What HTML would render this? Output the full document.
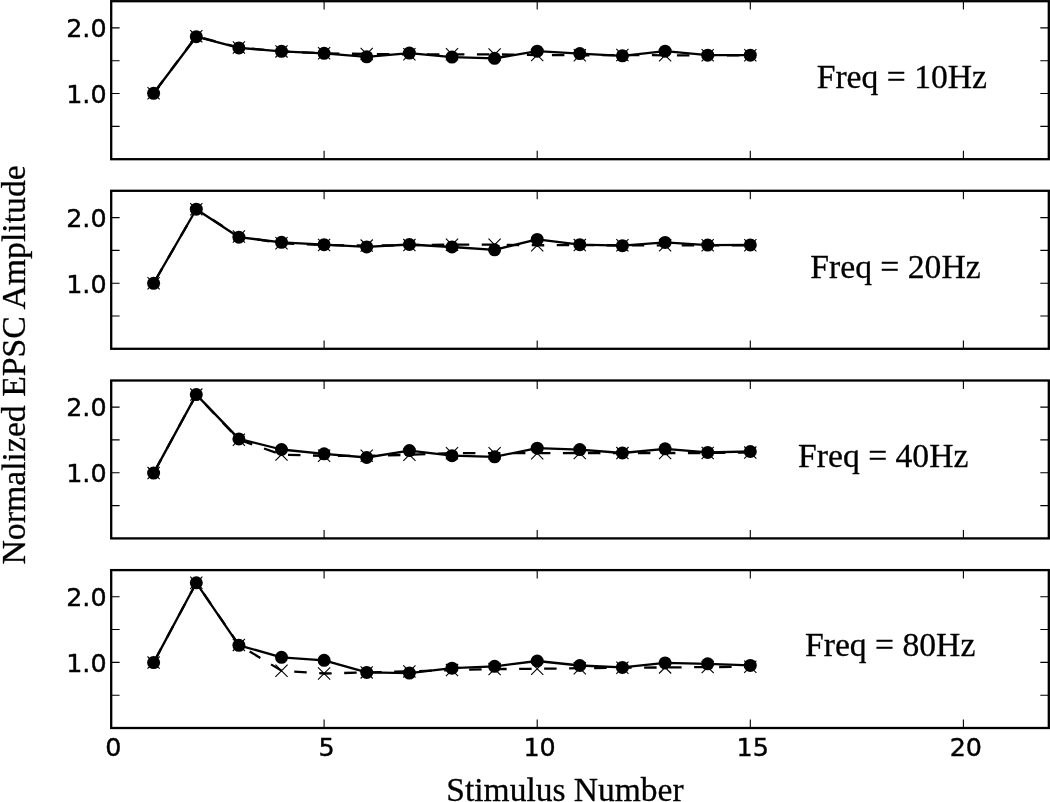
<!DOCTYPE html>
<html lang="en"><head><meta charset="utf-8"><title>Normalized EPSC Amplitude vs Stimulus Number</title>
<style>html,body{margin:0;padding:0;background:#fff}body{width:1050px;height:802px;overflow:hidden}svg{display:block}.tk{font-family:"DejaVu Sans","Liberation Sans",sans-serif;font-size:25.4px;fill:#000;stroke:#000;stroke-width:0.4px}.lb{font-family:"Liberation Serif","DejaVu Serif",serif;font-size:33.65px;fill:#000;stroke:#000;stroke-width:0.3px}</style></head><body>
<svg width="1050" height="802" viewBox="0 0 1050 802">
<rect width="1050" height="802" fill="#fff"/>
<g>
<polyline points="153.6,93.3 196.3,36.3 238.9,47.5 281.5,51.4 324.1,53.3 366.7,54.0 409.4,54.3 452.0,54.3 494.6,54.4 537.2,55.0 579.8,55.3 622.4,55.0 665.1,55.3 707.7,55.3 750.3,55.3" fill="none" stroke="#000" stroke-width="2.3" stroke-dasharray="12.5 12.5" stroke-dashoffset="-3.5"/>
<path d="M147.5 87.2L159.7 99.4M147.5 99.4L159.7 87.2M190.2 30.2L202.4 42.4M190.2 42.4L202.4 30.2M232.8 41.4L245.0 53.6M232.8 53.6L245.0 41.4M275.4 45.3L287.6 57.5M275.4 57.5L287.6 45.3M318.0 47.2L330.2 59.4M318.0 59.4L330.2 47.2M360.6 47.9L372.8 60.1M360.6 60.1L372.8 47.9M403.3 48.2L415.5 60.4M403.3 60.4L415.5 48.2M445.9 48.2L458.1 60.4M445.9 60.4L458.1 48.2M488.5 48.3L500.7 60.5M488.5 60.5L500.7 48.3M531.1 48.9L543.3 61.1M531.1 61.1L543.3 48.9M573.7 49.2L585.9 61.4M573.7 61.4L585.9 49.2M616.3 48.9L628.5 61.1M616.3 61.1L628.5 48.9M659.0 49.2L671.2 61.4M659.0 61.4L671.2 49.2M701.6 49.2L713.8 61.4M701.6 61.4L713.8 49.2M744.2 49.2L756.4 61.4M744.2 61.4L756.4 49.2" stroke="#000" stroke-width="1.1" fill="none"/>
<polyline points="153.6,93.3 196.3,36.7 238.9,47.9 281.5,51.3 324.1,53.3 366.7,56.8 409.4,53.1 452.0,57.1 494.6,58.3 537.2,51.2 579.8,53.6 622.4,55.8 665.1,51.2 707.7,55.2 750.3,55.2" fill="none" stroke="#000" stroke-width="2.3" stroke-linejoin="round"/>
<circle cx="153.6" cy="93.3" r="6.5" fill="#000"/>
<circle cx="196.3" cy="36.7" r="6.5" fill="#000"/>
<circle cx="238.9" cy="47.9" r="6.5" fill="#000"/>
<circle cx="281.5" cy="51.3" r="6.5" fill="#000"/>
<circle cx="324.1" cy="53.3" r="6.5" fill="#000"/>
<circle cx="366.7" cy="56.8" r="6.5" fill="#000"/>
<circle cx="409.4" cy="53.1" r="6.5" fill="#000"/>
<circle cx="452.0" cy="57.1" r="6.5" fill="#000"/>
<circle cx="494.6" cy="58.3" r="6.5" fill="#000"/>
<circle cx="537.2" cy="51.2" r="6.5" fill="#000"/>
<circle cx="579.8" cy="53.6" r="6.5" fill="#000"/>
<circle cx="622.4" cy="55.8" r="6.5" fill="#000"/>
<circle cx="665.1" cy="51.2" r="6.5" fill="#000"/>
<circle cx="707.7" cy="55.2" r="6.5" fill="#000"/>
<circle cx="750.3" cy="55.2" r="6.5" fill="#000"/>
<path d="M324.1 1.2v8.4M324.1 159.2v-8.4M537.2 1.2v8.4M537.2 159.2v-8.4M750.3 1.2v8.4M750.3 159.2v-8.4M963.4 1.2v8.4M963.4 159.2v-8.4M111.2 126.4h8.4M1048.7 126.4h-8.4M111.2 93.5h8.4M1048.7 93.5h-8.4M111.2 60.7h8.4M1048.7 60.7h-8.4M111.2 27.9h8.4M1048.7 27.9h-8.4" stroke="#000" stroke-width="1.1" fill="none"/>
<rect x="111.2" y="1.2" width="937.6" height="158.0" fill="none" stroke="#000" stroke-width="2.3"/>
<text class="tk" x="106.6" y="102.8" text-anchor="end">1.0</text>
<text class="tk" x="106.6" y="37.2" text-anchor="end">2.0</text>
<text class="lb" x="816.7" y="87.7">Freq = 10Hz</text>
</g>
<g>
<polyline points="153.6,283.3 196.3,209.3 238.9,236.5 281.5,243.3 324.1,245.0 366.7,245.6 409.4,245.1 452.0,244.7 494.6,244.7 537.2,245.3 579.8,245.1 622.4,245.3 665.1,245.3 707.7,245.3 750.3,245.3" fill="none" stroke="#000" stroke-width="2.3" stroke-dasharray="12.5 12.5" stroke-dashoffset="-4.4"/>
<path d="M147.5 277.2L159.7 289.4M147.5 289.4L159.7 277.2M190.2 203.2L202.4 215.4M190.2 215.4L202.4 203.2M232.8 230.4L245.0 242.6M232.8 242.6L245.0 230.4M275.4 237.2L287.6 249.4M275.4 249.4L287.6 237.2M318.0 238.9L330.2 251.1M318.0 251.1L330.2 238.9M360.6 239.5L372.8 251.7M360.6 251.7L372.8 239.5M403.3 239.0L415.5 251.2M403.3 251.2L415.5 239.0M445.9 238.6L458.1 250.8M445.9 250.8L458.1 238.6M488.5 238.6L500.7 250.8M488.5 250.8L500.7 238.6M531.1 239.2L543.3 251.4M531.1 251.4L543.3 239.2M573.7 239.0L585.9 251.2M573.7 251.2L585.9 239.0M616.3 239.2L628.5 251.4M616.3 251.4L628.5 239.2M659.0 239.2L671.2 251.4M659.0 251.4L671.2 239.2M701.6 239.2L713.8 251.4M701.6 251.4L713.8 239.2M744.2 239.2L756.4 251.4M744.2 251.4L756.4 239.2" stroke="#000" stroke-width="1.1" fill="none"/>
<polyline points="153.6,283.3 196.3,209.2 238.9,237.2 281.5,242.3 324.1,244.7 366.7,246.9 409.4,244.5 452.0,247.0 494.6,249.8 537.2,239.4 579.8,244.7 622.4,245.7 665.1,242.4 707.7,245.1 750.3,244.9" fill="none" stroke="#000" stroke-width="2.3" stroke-linejoin="round"/>
<circle cx="153.6" cy="283.3" r="6.5" fill="#000"/>
<circle cx="196.3" cy="209.2" r="6.5" fill="#000"/>
<circle cx="238.9" cy="237.2" r="6.5" fill="#000"/>
<circle cx="281.5" cy="242.3" r="6.5" fill="#000"/>
<circle cx="324.1" cy="244.7" r="6.5" fill="#000"/>
<circle cx="366.7" cy="246.9" r="6.5" fill="#000"/>
<circle cx="409.4" cy="244.5" r="6.5" fill="#000"/>
<circle cx="452.0" cy="247.0" r="6.5" fill="#000"/>
<circle cx="494.6" cy="249.8" r="6.5" fill="#000"/>
<circle cx="537.2" cy="239.4" r="6.5" fill="#000"/>
<circle cx="579.8" cy="244.7" r="6.5" fill="#000"/>
<circle cx="622.4" cy="245.7" r="6.5" fill="#000"/>
<circle cx="665.1" cy="242.4" r="6.5" fill="#000"/>
<circle cx="707.7" cy="245.1" r="6.5" fill="#000"/>
<circle cx="750.3" cy="244.9" r="6.5" fill="#000"/>
<path d="M324.1 190.8v8.4M324.1 348.9v-8.4M537.2 190.8v8.4M537.2 348.9v-8.4M750.3 190.8v8.4M750.3 348.9v-8.4M963.4 190.8v8.4M963.4 348.9v-8.4M111.2 316.0h8.4M1048.7 316.0h-8.4M111.2 283.2h8.4M1048.7 283.2h-8.4M111.2 250.4h8.4M1048.7 250.4h-8.4M111.2 217.6h8.4M1048.7 217.6h-8.4" stroke="#000" stroke-width="1.1" fill="none"/>
<rect x="111.2" y="190.8" width="937.6" height="158.0" fill="none" stroke="#000" stroke-width="2.3"/>
<text class="tk" x="106.6" y="292.5" text-anchor="end">1.0</text>
<text class="tk" x="106.6" y="226.9" text-anchor="end">2.0</text>
<text class="lb" x="810.3" y="277.6">Freq = 20Hz</text>
</g>
<g>
<polyline points="153.6,473.1 196.3,394.6 238.9,439.7 281.5,454.6 324.1,455.8 366.7,455.8 409.4,454.8 452.0,453.2 494.6,453.2 537.2,453.2 579.8,453.0 622.4,453.1 665.1,453.0 707.7,453.0 750.3,452.6" fill="none" stroke="#000" stroke-width="2.3" stroke-dasharray="12.5 12.5" stroke-dashoffset="-3.0"/>
<path d="M147.5 467.0L159.7 479.2M147.5 479.2L159.7 467.0M190.2 388.5L202.4 400.7M190.2 400.7L202.4 388.5M232.8 433.6L245.0 445.8M232.8 445.8L245.0 433.6M275.4 448.5L287.6 460.7M275.4 460.7L287.6 448.5M318.0 449.7L330.2 461.9M318.0 461.9L330.2 449.7M360.6 449.7L372.8 461.9M360.6 461.9L372.8 449.7M403.3 448.7L415.5 460.9M403.3 460.9L415.5 448.7M445.9 447.1L458.1 459.3M445.9 459.3L458.1 447.1M488.5 447.1L500.7 459.3M488.5 459.3L500.7 447.1M531.1 447.1L543.3 459.3M531.1 459.3L543.3 447.1M573.7 446.9L585.9 459.1M573.7 459.1L585.9 446.9M616.3 447.0L628.5 459.2M616.3 459.2L628.5 447.0M659.0 446.9L671.2 459.1M659.0 459.1L671.2 446.9M701.6 446.9L713.8 459.1M701.6 459.1L713.8 446.9M744.2 446.5L756.4 458.7M744.2 458.7L756.4 446.5" stroke="#000" stroke-width="1.1" fill="none"/>
<polyline points="153.6,473.1 196.3,394.6 238.9,438.9 281.5,449.5 324.1,453.8 366.7,457.5 409.4,450.6 452.0,455.7 494.6,456.8 537.2,448.2 579.8,449.6 622.4,453.0 665.1,448.8 707.7,452.4 750.3,451.5" fill="none" stroke="#000" stroke-width="2.3" stroke-linejoin="round"/>
<circle cx="153.6" cy="473.1" r="6.5" fill="#000"/>
<circle cx="196.3" cy="394.6" r="6.5" fill="#000"/>
<circle cx="238.9" cy="438.9" r="6.5" fill="#000"/>
<circle cx="281.5" cy="449.5" r="6.5" fill="#000"/>
<circle cx="324.1" cy="453.8" r="6.5" fill="#000"/>
<circle cx="366.7" cy="457.5" r="6.5" fill="#000"/>
<circle cx="409.4" cy="450.6" r="6.5" fill="#000"/>
<circle cx="452.0" cy="455.7" r="6.5" fill="#000"/>
<circle cx="494.6" cy="456.8" r="6.5" fill="#000"/>
<circle cx="537.2" cy="448.2" r="6.5" fill="#000"/>
<circle cx="579.8" cy="449.6" r="6.5" fill="#000"/>
<circle cx="622.4" cy="453.0" r="6.5" fill="#000"/>
<circle cx="665.1" cy="448.8" r="6.5" fill="#000"/>
<circle cx="707.7" cy="452.4" r="6.5" fill="#000"/>
<circle cx="750.3" cy="451.5" r="6.5" fill="#000"/>
<path d="M324.1 380.5v8.4M324.1 538.4v-8.4M537.2 380.5v8.4M537.2 538.4v-8.4M750.3 380.5v8.4M750.3 538.4v-8.4M963.4 380.5v8.4M963.4 538.4v-8.4M111.2 505.6h8.4M1048.7 505.6h-8.4M111.2 472.8h8.4M1048.7 472.8h-8.4M111.2 439.9h8.4M1048.7 439.9h-8.4M111.2 407.1h8.4M1048.7 407.1h-8.4" stroke="#000" stroke-width="1.1" fill="none"/>
<rect x="111.2" y="380.5" width="937.6" height="157.9" fill="none" stroke="#000" stroke-width="2.3"/>
<text class="tk" x="106.6" y="482.1" text-anchor="end">1.0</text>
<text class="tk" x="106.6" y="416.4" text-anchor="end">2.0</text>
<text class="lb" x="798.1" y="466.6">Freq = 40Hz</text>
</g>
<g>
<polyline points="153.6,662.6 196.3,582.8 238.9,644.9 281.5,670.7 324.1,673.5 366.7,672.4 409.4,671.4 452.0,670.1 494.6,669.1 537.2,668.8 579.8,668.2 622.4,667.8 665.1,667.4 707.7,667.1 750.3,666.7" fill="none" stroke="#000" stroke-width="2.3" stroke-dasharray="12.5 12.5" stroke-dashoffset="-3.4"/>
<path d="M147.5 656.5L159.7 668.7M147.5 668.7L159.7 656.5M190.2 576.7L202.4 588.9M190.2 588.9L202.4 576.7M232.8 638.8L245.0 651.0M232.8 651.0L245.0 638.8M275.4 664.6L287.6 676.8M275.4 676.8L287.6 664.6M318.0 667.4L330.2 679.6M318.0 679.6L330.2 667.4M360.6 666.3L372.8 678.5M360.6 678.5L372.8 666.3M403.3 665.3L415.5 677.5M403.3 677.5L415.5 665.3M445.9 664.0L458.1 676.2M445.9 676.2L458.1 664.0M488.5 663.0L500.7 675.2M488.5 675.2L500.7 663.0M531.1 662.7L543.3 674.9M531.1 674.9L543.3 662.7M573.7 662.1L585.9 674.3M573.7 674.3L585.9 662.1M616.3 661.7L628.5 673.9M616.3 673.9L628.5 661.7M659.0 661.3L671.2 673.5M659.0 673.5L671.2 661.3M701.6 661.0L713.8 673.2M701.6 673.2L713.8 661.0M744.2 660.6L756.4 672.8M744.2 672.8L756.4 660.6" stroke="#000" stroke-width="1.1" fill="none"/>
<polyline points="153.6,662.6 196.3,582.8 238.9,645.3 281.5,657.3 324.1,660.3 366.7,672.4 409.4,673.1 452.0,668.2 494.6,666.3 537.2,661.0 579.8,665.5 622.4,667.4 665.1,662.9 707.7,663.8 750.3,665.4" fill="none" stroke="#000" stroke-width="2.3" stroke-linejoin="round"/>
<circle cx="153.6" cy="662.6" r="6.5" fill="#000"/>
<circle cx="196.3" cy="582.8" r="6.5" fill="#000"/>
<circle cx="238.9" cy="645.3" r="6.5" fill="#000"/>
<circle cx="281.5" cy="657.3" r="6.5" fill="#000"/>
<circle cx="324.1" cy="660.3" r="6.5" fill="#000"/>
<circle cx="366.7" cy="672.4" r="6.5" fill="#000"/>
<circle cx="409.4" cy="673.1" r="6.5" fill="#000"/>
<circle cx="452.0" cy="668.2" r="6.5" fill="#000"/>
<circle cx="494.6" cy="666.3" r="6.5" fill="#000"/>
<circle cx="537.2" cy="661.0" r="6.5" fill="#000"/>
<circle cx="579.8" cy="665.5" r="6.5" fill="#000"/>
<circle cx="622.4" cy="667.4" r="6.5" fill="#000"/>
<circle cx="665.1" cy="662.9" r="6.5" fill="#000"/>
<circle cx="707.7" cy="663.8" r="6.5" fill="#000"/>
<circle cx="750.3" cy="665.4" r="6.5" fill="#000"/>
<path d="M324.1 570.1v8.4M324.1 728.0v-8.4M537.2 570.1v8.4M537.2 728.0v-8.4M750.3 570.1v8.4M750.3 728.0v-8.4M963.4 570.1v8.4M963.4 728.0v-8.4M111.2 695.2h8.4M1048.7 695.2h-8.4M111.2 662.4h8.4M1048.7 662.4h-8.4M111.2 629.5h8.4M1048.7 629.5h-8.4M111.2 596.7h8.4M1048.7 596.7h-8.4" stroke="#000" stroke-width="1.1" fill="none"/>
<rect x="111.2" y="570.1" width="937.6" height="157.9" fill="none" stroke="#000" stroke-width="2.3"/>
<text class="tk" x="106.6" y="671.6" text-anchor="end">1.0</text>
<text class="tk" x="106.6" y="606.0" text-anchor="end">2.0</text>
<text class="lb" x="805.0" y="656.4">Freq = 80Hz</text>
</g>
<text class="tk" x="113.4" y="755.7" text-anchor="middle">0</text>
<text class="tk" x="326.5" y="755.7" text-anchor="middle">5</text>
<text class="tk" x="539.6" y="755.7" text-anchor="middle">10</text>
<text class="tk" x="752.7" y="755.7" text-anchor="middle">15</text>
<text class="tk" x="965.8" y="755.7" text-anchor="middle">20</text>
<text class="lb" x="565" y="801.4" text-anchor="middle" style="font-size:33.5px">Stimulus Number</text>
<text class="lb" style="font-size:33.75px" transform="translate(25.0 364.9) rotate(-90)" text-anchor="middle">Normalized EPSC Amplitude</text>
</svg></body></html>
